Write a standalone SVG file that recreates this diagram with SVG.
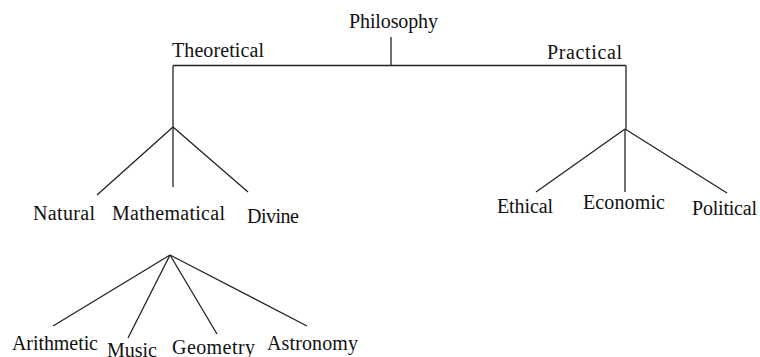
<svg xmlns="http://www.w3.org/2000/svg" width="760" height="357" viewBox="0 0 760 357">
<style>
.c line{stroke:#222;stroke-width:1.3;fill:none}
</style>
<rect width="760" height="357" fill="#fff"/>
<g class="c" id="connectors">
<line x1="391" y1="37" x2="391" y2="66"/>
<line x1="173" y1="65.5" x2="626" y2="65.5"/>
<line x1="173" y1="65.5" x2="173" y2="127"/>
<line x1="626" y1="65.5" x2="626" y2="129"/>
<line x1="173" y1="127" x2="97" y2="195"/>
<line x1="173" y1="127" x2="173" y2="187"/>
<line x1="173" y1="127" x2="248" y2="192"/>
<line x1="625" y1="129" x2="536" y2="192"/>
<line x1="625" y1="129" x2="625" y2="192"/>
<line x1="625" y1="129" x2="727" y2="193"/>
<line x1="170" y1="255" x2="53" y2="326"/>
<line x1="170" y1="255" x2="128" y2="338"/>
<line x1="170" y1="255" x2="217" y2="334"/>
<line x1="170" y1="255" x2="307" y2="326"/>
</g>
<g font-family="'Liberation Serif', serif" font-size="20" fill="#111">
<g id="philosophy"><text x="349" y="28" textLength="89">Philosophy</text></g>
<g id="theoretical"><text x="172" y="57" textLength="92">Theoretical</text></g>
<g id="practical"><text x="547" y="59" textLength="75">Practical</text></g>
<g id="natural"><text x="33" y="220" textLength="62">Natural</text></g>
<g id="mathematical"><text x="112" y="220" textLength="113">Mathematical</text></g>
<g id="divine"><text x="247" y="223" textLength="52">Divine</text></g>
<g id="ethical"><text x="497" y="213" textLength="56">Ethical</text></g>
<g id="economic"><text x="583" y="209" textLength="82">Economic</text></g>
<g id="political"><text x="692" y="215" textLength="65">Political</text></g>
<g id="arithmetic"><text x="12" y="350" textLength="86">Arithmetic</text></g>
<g id="music"><text x="107" y="357" textLength="50">Music</text></g>
<g id="geometry"><text x="172" y="354" textLength="83">Geometry</text></g>
<g id="astronomy"><text x="267" y="350" textLength="91">Astronomy</text></g>
</g>
</svg>
